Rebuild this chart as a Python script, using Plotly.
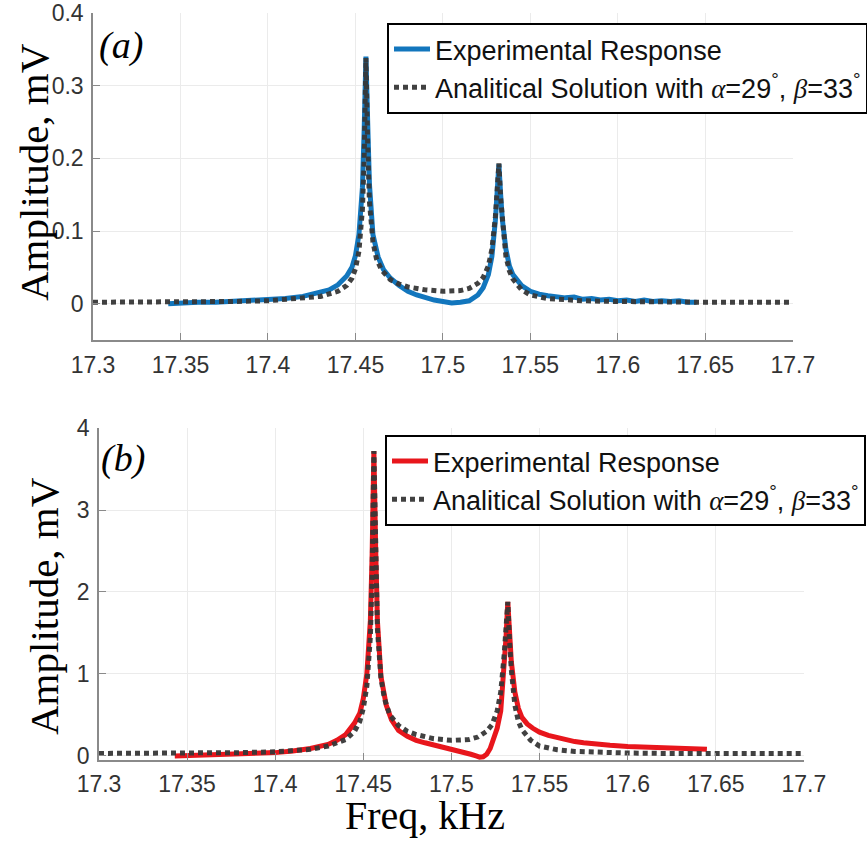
import plotly.graph_objects as go

# ---------------- data ----------------
tick_vals = [17.3, 17.35, 17.4, 17.45, 17.5, 17.55, 17.6, 17.65, 17.7]
tick_text = ["17.3", "17.35", "17.4", "17.45", "17.5", "17.55", "17.6", "17.65", "17.7"]
ya_ticks = [0, 0.1, 0.2, 0.3, 0.4]
ya_text = ["0", "0.1", "0.2", "0.3", "0.4"]
yb_ticks = [0, 1, 2, 3, 4]
yb_text = ["0", "1", "2", "3", "4"]

# (a) experimental response
exp_a_f = [17.343, 17.35, 17.36, 17.37, 17.38, 17.39, 17.40, 17.41, 17.42, 17.43,
           17.435, 17.44, 17.445, 17.448, 17.45, 17.452, 17.454, 17.455, 17.456,
           17.457, 17.458, 17.46, 17.463, 17.466, 17.47, 17.475, 17.48, 17.485,
           17.49, 17.495, 17.50, 17.505, 17.51, 17.515, 17.52, 17.523, 17.526,
           17.528, 17.53, 17.531, 17.532, 17.533, 17.534, 17.536, 17.538, 17.54,
           17.545, 17.55, 17.555, 17.56, 17.565, 17.57, 17.575, 17.58, 17.585,
           17.59, 17.595, 17.60, 17.605, 17.61, 17.615, 17.62, 17.625, 17.63,
           17.635, 17.64, 17.645]
exp_a_amp = [0.000, 0.001, 0.002, 0.002, 0.003, 0.004, 0.005, 0.007, 0.010, 0.015,
             0.019, 0.026, 0.038, 0.050, 0.066, 0.095, 0.160, 0.240, 0.340,
             0.250, 0.165, 0.095, 0.064, 0.047, 0.035, 0.025, 0.017, 0.012,
             0.008, 0.005, 0.003, 0.001, 0.002, 0.004, 0.012, 0.022, 0.040,
             0.065, 0.115, 0.150, 0.192, 0.150, 0.115, 0.075, 0.052, 0.040,
             0.025, 0.017, 0.013, 0.011, 0.009, 0.008, 0.009, 0.006, 0.007,
             0.005, 0.006, 0.004, 0.005, 0.003, 0.005, 0.003, 0.004, 0.003,
             0.004, 0.002, 0.002]

# (a) analytical solution
ana_a_f = [17.30, 17.32, 17.34, 17.36, 17.38, 17.40, 17.42, 17.43, 17.44, 17.445,
           17.448, 17.45, 17.452, 17.454, 17.455, 17.456, 17.457, 17.458, 17.46,
           17.462, 17.465, 17.47, 17.475, 17.48, 17.49, 17.50, 17.51, 17.515,
           17.52, 17.523, 17.526, 17.528, 17.53, 17.531, 17.532, 17.533, 17.534,
           17.536, 17.538, 17.54, 17.545, 17.55, 17.56, 17.57, 17.58, 17.60,
           17.62, 17.65, 17.68, 17.70]
ana_a_amp = [0.002, 0.002, 0.002, 0.003, 0.003, 0.004, 0.007, 0.010, 0.017, 0.025,
             0.035, 0.048, 0.072, 0.130, 0.200, 0.338, 0.220, 0.140, 0.085,
             0.062, 0.046, 0.033, 0.027, 0.023, 0.019, 0.017, 0.018, 0.021,
             0.028, 0.036, 0.052, 0.075, 0.120, 0.155, 0.193, 0.145, 0.110,
             0.065, 0.045, 0.034, 0.019, 0.012, 0.007, 0.005, 0.004, 0.003,
             0.002, 0.002, 0.002, 0.002]

# (b) experimental response
exp_b_f = [17.343, 17.35, 17.36, 17.37, 17.38, 17.39, 17.40, 17.41, 17.42, 17.43,
           17.435, 17.44, 17.445, 17.448, 17.45, 17.452, 17.454, 17.455, 17.456,
           17.457, 17.458, 17.46, 17.463, 17.466, 17.47, 17.475, 17.48, 17.485,
           17.49, 17.495, 17.50, 17.505, 17.508, 17.511, 17.514, 17.516, 17.518,
           17.52, 17.522, 17.524, 17.526, 17.528, 17.53, 17.531, 17.532, 17.533,
           17.534, 17.536, 17.538, 17.54, 17.543, 17.546, 17.55, 17.555, 17.56,
           17.565, 17.57, 17.575, 17.58, 17.59, 17.60, 17.61, 17.62, 17.63,
           17.64, 17.645]
exp_b_amp = [0.00, 0.005, 0.01, 0.015, 0.02, 0.03, 0.04, 0.06, 0.09, 0.14,
             0.19, 0.26, 0.40, 0.52, 0.70, 1.00, 1.65, 2.45, 3.72,
             2.55, 1.65, 0.97, 0.62, 0.44, 0.31, 0.24, 0.19, 0.16,
             0.135, 0.11, 0.09, 0.065, 0.045, 0.02, 0.0, -0.015, -0.01,
             0.02, 0.09, 0.20, 0.34, 0.55, 1.05, 1.45, 1.88, 1.45,
             1.15, 0.78, 0.58, 0.47, 0.39, 0.34, 0.29, 0.25, 0.22,
             0.195, 0.175, 0.16, 0.145, 0.13, 0.115, 0.105, 0.10, 0.09,
             0.085, 0.08]

# (b) analytical solution
ana_b_f = [17.30, 17.32, 17.34, 17.36, 17.38, 17.40, 17.42, 17.43, 17.44, 17.445,
           17.448, 17.45, 17.452, 17.454, 17.455, 17.456, 17.457, 17.458, 17.46,
           17.462, 17.465, 17.47, 17.475, 17.48, 17.49, 17.50, 17.51, 17.515,
           17.52, 17.523, 17.526, 17.528, 17.53, 17.531, 17.532, 17.533, 17.534,
           17.536, 17.538, 17.54, 17.545, 17.55, 17.56, 17.57, 17.58, 17.60,
           17.62, 17.65, 17.68, 17.70]
ana_b_amp = [0.03, 0.03, 0.03, 0.035, 0.04, 0.05, 0.08, 0.12, 0.20, 0.30,
             0.42, 0.58, 0.85, 1.45, 2.20, 3.72, 2.45, 1.55, 0.95,
             0.70, 0.50, 0.37, 0.30, 0.26, 0.21, 0.19, 0.20, 0.23,
             0.30, 0.38, 0.55, 0.78, 1.25, 1.55, 1.88, 1.40, 1.05,
             0.62, 0.42, 0.32, 0.19, 0.12, 0.075, 0.055, 0.045, 0.035,
             0.03, 0.03, 0.03, 0.03]

# ---------------- styling ----------------
BLUE = "#1276bd"
RED = "#e8161c"
GREY = "rgba(55,55,55,0.95)"
SANS = "Liberation Sans, Arial, sans-serif"
SERIF = "Liberation Serif, Times New Roman, serif"
DOT = "5px,4px"

ana_name = ("Analitical Solution with "
            "<span style='font-family:Liberation Serif'><i>α</i></span>=29<sup>°</sup>, "
            "<span style='font-family:Liberation Serif'><i>β</i></span>=33<sup>°</sup>")

fig = go.Figure()
fig.add_trace(go.Scatter(x=exp_a_f, y=exp_a_amp, mode="lines", name="Experimental Response",
                         line=dict(color=BLUE, width=5), xaxis="x", yaxis="y", legend="legend"))
fig.add_trace(go.Scatter(x=ana_a_f, y=ana_a_amp, mode="lines", name=ana_name,
                         line=dict(color=GREY, width=5, dash=DOT), xaxis="x", yaxis="y",
                         legend="legend"))
fig.add_trace(go.Scatter(x=exp_b_f, y=exp_b_amp, mode="lines", name="Experimental Response",
                         line=dict(color=RED, width=5), xaxis="x2", yaxis="y2", legend="legend2"))
fig.add_trace(go.Scatter(x=ana_b_f, y=ana_b_amp, mode="lines", name=ana_name,
                         line=dict(color=GREY, width=5, dash=DOT), xaxis="x2", yaxis="y2",
                         legend="legend2"))

W, H = 867, 841


def px_x(v):
    return v / W


def px_y(v):
    return 1 - v / H


common_x = dict(range=[17.3, 17.7001], tickvals=tick_vals, ticktext=tick_text,
                showgrid=True, gridcolor="#ebebeb", gridwidth=1,
                showline=True, linecolor="#8a8a8a", linewidth=1.5,
                ticks="inside", ticklen=7, tickcolor="#8a8a8a",
                tickfont=dict(family=SANS, size=23, color="#333333"),
                ticklabeloverflow="allow",
                zeroline=False, fixedrange=True)
common_y = dict(showgrid=True, gridcolor="#ebebeb", gridwidth=1,
                showline=True, linecolor="#8a8a8a", linewidth=1.5,
                ticks="inside", ticklen=7, tickcolor="#8a8a8a",
                tickfont=dict(family=SANS, size=23, color="#333333"),
                ticklabeloverflow="allow",
                zeroline=False, fixedrange=True, ticklabelstandoff=3)

legend_common = dict(xanchor="left", yanchor="top", bgcolor="white",
                     bordercolor="black", borderwidth=2,
                     font=dict(family=SANS, size=27, color="#111111"),
                     itemwidth=36, tracegroupgap=0)

fig.update_layout(
    width=W, height=H,
    margin=dict(l=0, r=0, t=0, b=0, autoexpand=False),
    paper_bgcolor="white", plot_bgcolor="white",
    xaxis=dict(domain=[px_x(93), px_x(793)], anchor="y", ticklabelstandoff=4, **common_x),
    yaxis=dict(domain=[px_y(340), px_y(13)], anchor="x", range=[-0.05, 0.4001],
               tickvals=ya_ticks, ticktext=ya_text, **common_y),
    xaxis2=dict(domain=[px_x(99), px_x(804)], anchor="y2", ticklabelstandoff=3, **common_x),
    yaxis2=dict(domain=[px_y(760), px_y(428)], anchor="x2", range=[-0.05, 4.001],
                tickvals=yb_ticks, ticktext=yb_text, **common_y),
    legend=dict(x=px_x(387), y=px_y(23), **legend_common),
    legend2=dict(x=px_x(385), y=px_y(435), **legend_common),
    showlegend=True,
)

annots = [
    dict(text="Amplitude, mV", x=px_x(34), y=px_y(172), textangle=-90,
         font=dict(family=SERIF, size=41, color="black")),
    dict(text="Amplitude, mV", x=px_x(44), y=px_y(606), textangle=-90,
         font=dict(family=SERIF, size=41, color="black")),
    dict(text="Freq, kHz", x=px_x(425), y=px_y(815),
         font=dict(family=SERIF, size=40, color="black")),
    dict(text="<i>(a)</i>", x=px_x(121), y=px_y(45),
         font=dict(family=SERIF, size=38, color="black")),
    dict(text="<i>(b)</i>", x=px_x(123), y=px_y(458),
         font=dict(family=SERIF, size=38, color="black")),
]
for a in annots:
    fig.add_annotation(xref="paper", yref="paper", showarrow=False,
                       xanchor="center", yanchor="middle", **a)

fig.write_html("out.html")
